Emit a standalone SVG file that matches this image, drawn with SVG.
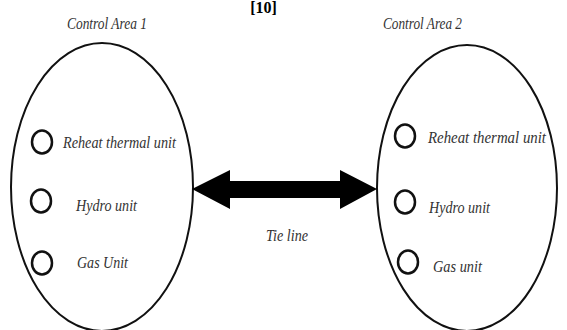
<svg xmlns="http://www.w3.org/2000/svg" width="567" height="330" viewBox="0 0 567 330">
<style>
.area{fill:none;stroke:#111;stroke-width:2}
.unit{fill:none;stroke:#111;stroke-width:2.5}
.lbl{font-family:"Liberation Serif",serif;font-style:italic;font-size:17px;fill:#333}
.ref{font-family:"Liberation Serif",serif;font-weight:bold;font-size:16px;fill:#000}
</style>
<rect width="567" height="330" fill="#fff"/>
<text class="ref" x="263.5" y="13" text-anchor="middle">[10]</text>
<g id="area1">
<text class="lbl" x="67" y="29" textLength="80" lengthAdjust="spacingAndGlyphs">Control Area 1</text>
<ellipse class="area" cx="102" cy="187" rx="91" ry="144"/>
</g>
<g id="unit1a"><ellipse class="unit" cx="42" cy="142" rx="10" ry="11.5"/><text class="lbl" x="63" y="148" textLength="113" lengthAdjust="spacingAndGlyphs">Reheat thermal unit</text></g>
<g id="unit1b"><ellipse class="unit" cx="41" cy="201" rx="10" ry="11.5"/><text class="lbl" x="76" y="211" textLength="61" lengthAdjust="spacingAndGlyphs">Hydro unit</text></g>
<g id="unit1c"><ellipse class="unit" cx="42" cy="263" rx="10" ry="11.5"/><text class="lbl" x="77" y="268" textLength="51" lengthAdjust="spacingAndGlyphs">Gas Unit</text></g>
<g id="area2">
<text class="lbl" x="383" y="29" textLength="79" lengthAdjust="spacingAndGlyphs">Control Area 2</text>
<ellipse class="area" cx="467" cy="188" rx="90" ry="143"/>
</g>
<g id="unit2a"><ellipse class="unit" cx="405" cy="136" rx="10" ry="11.5"/><text class="lbl" x="428" y="143" textLength="118" lengthAdjust="spacingAndGlyphs">Reheat thermal unit</text></g>
<g id="unit2b"><ellipse class="unit" cx="405" cy="202" rx="10" ry="11.5"/><text class="lbl" x="429" y="213" textLength="61" lengthAdjust="spacingAndGlyphs">Hydro unit</text></g>
<g id="unit2c"><ellipse class="unit" cx="408" cy="262" rx="10" ry="11.5"/><text class="lbl" x="433" y="272" textLength="49" lengthAdjust="spacingAndGlyphs">Gas unit</text></g>
<g id="connectors">
<polygon points="192,189 230,170 230,181 340,181 340,170 377,189 340,209 340,198 230,198 230,209" fill="#000"/>
<text class="lbl" x="266" y="241" textLength="42" lengthAdjust="spacingAndGlyphs">Tie line</text>
</g>
</svg>
